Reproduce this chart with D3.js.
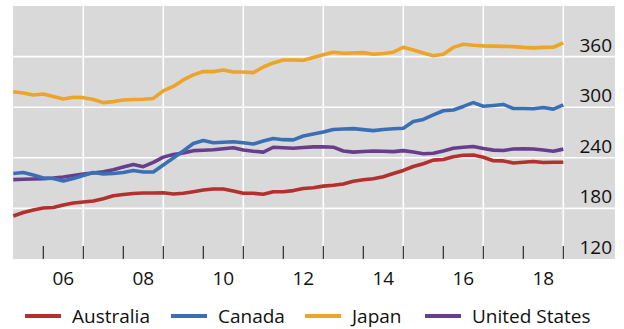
<!DOCTYPE html>
<html>
<head>
<meta charset="utf-8">
<script src="https://cdn.jsdelivr.net/npm/d3@7"></script>
<style>
  html, body { margin: 0; padding: 0; background: #ffffff; }
  svg { display: block; font-family: "Open Sans", "Noto Sans", sans-serif; }
</style>
</head>
<body>
<svg id="chart" width="624" height="329"></svg>
<script>
// Quarterly index levels, 2005 Q1 – 2018 Q4 (plotted at quarter end)
const firstQuarterEnd = 2005.25;

const australia = [
  171.0, 175.2, 178.1, 180.5, 181.1, 184.1, 186.4, 187.6, 188.8, 191.5,
  195.1, 196.5, 197.7, 198.3, 198.3, 198.5, 197.1, 197.9, 199.8, 201.9,
  203.0, 203.0, 200.7, 197.9, 197.9, 196.8, 199.7, 199.7, 201.1, 203.6,
  204.5, 206.4, 207.5, 209.0, 212.2, 214.0, 215.1, 217.6, 221.4, 225.0,
  229.7, 232.9, 237.2, 238.0, 241.2, 243.1, 243.4, 240.6, 236.5, 236.3,
  233.9, 234.7, 235.7, 234.5, 234.7, 234.7
];
const canada = [
  221.4, 222.6, 219.7, 216.1, 215.5, 212.5, 215.5, 219.1, 222.6, 220.8,
  221.4, 222.6, 225.0, 223.2, 223.2, 231.5, 239.8, 248.1, 257.0, 260.6,
  257.9, 258.5, 259.1, 257.8, 256.4, 260.0, 262.9, 261.5, 261.2, 265.9,
  268.3, 270.6, 273.6, 274.2, 274.6, 273.4, 272.2, 273.6, 274.4, 275.0,
  283.1, 285.5, 290.8, 295.8, 296.7, 300.9, 305.4, 301.1, 302.1, 303.3,
  298.5, 298.5, 298.2, 299.6, 297.7, 302.7
];
const japan = [
  318.4, 316.9, 314.5, 315.7, 312.8, 309.8, 311.8, 311.3, 309.2, 305.4,
  306.6, 308.6, 309.2, 309.4, 310.4, 319.3, 324.6, 332.3, 338.3, 342.4,
  342.2, 344.2, 341.8, 341.8, 341.0, 347.7, 352.5, 356.0, 356.0, 355.7,
  359.0, 362.3, 365.2, 364.0, 364.3, 364.7, 362.8, 363.7, 365.2, 371.1,
  367.9, 364.3, 361.1, 362.8, 370.9, 374.7, 373.5, 372.7, 372.4, 372.1,
  371.8, 370.9, 370.3, 370.9, 371.1, 376.2
];
const unitedStates = [
  214.1, 214.6, 214.9, 215.3, 216.1, 217.3, 219.1, 220.8, 222.0, 223.5,
  225.8, 229.1, 232.0, 229.5, 234.5, 240.8, 244.0, 245.7, 248.5, 248.9,
  249.5, 250.7, 251.9, 249.3, 247.8, 246.7, 252.5, 251.9, 251.3, 252.3,
  252.9, 253.1, 252.6, 248.1, 246.7, 247.4, 248.1, 247.8, 247.3, 248.5,
  246.9, 244.8, 245.4, 248.1, 251.3, 252.5, 253.4, 251.1, 249.1, 248.7,
  250.5, 250.7, 250.5, 249.3, 247.8, 250.3
];

const seriesNames  = ["Australia", "Canada", "Japan", "United States"];
const seriesColors = ["#b3302f", "#3b6fb5", "#eca429", "#683d8e"];
const seriesValues = [australia, canada, japan, unitedStates];
const drawOrder    = [0, 3, 1, 2];

const yTicks      = [120, 180, 240, 300, 360];
const yearTicks   = [2006, 2007, 2008, 2009, 2010, 2011, 2012, 2013, 2014, 2015, 2016, 2017, 2018, 2019];
const yearLabels  = [2006, 2008, 2010, 2012, 2014, 2016, 2018];
const yearGrid    = [2007, 2009, 2011, 2013, 2015, 2017, 2019];

const svg = d3.select("#chart");

const plot = { left: 13, right: 615, top: 6, bottom: 259 };

const x = d3.scaleLinear().domain([2005.25, 2020.3]).range([13.3, 615.3]);
const y = d3.scaleLinear().domain([120, 420]).range([plot.bottom, plot.top]);

// Panel background
svg.append("rect")
  .attr("x", plot.left).attr("y", plot.top)
  .attr("width", plot.right - plot.left).attr("height", plot.bottom - plot.top)
  .attr("fill", "#d9d9d9");

// Gridlines
const grid = svg.append("g").attr("stroke", "#ffffff").attr("stroke-width", 1.6);
grid.selectAll("line.h").data(yTicks.filter(v => v > 120)).join("line")
  .attr("class", "h")
  .attr("x1", plot.left).attr("x2", plot.right)
  .attr("y1", d => y(d)).attr("y2", d => y(d));
grid.selectAll("line.v").data(yearGrid).join("line")
  .attr("class", "v")
  .attr("x1", d => x(d)).attr("x2", d => x(d))
  .attr("y1", plot.top).attr("y2", plot.bottom);

// Year boundary ticks along the bottom
svg.append("g").selectAll("line").data(yearTicks).join("line")
  .attr("x1", d => x(d)).attr("x2", d => x(d))
  .attr("y1", plot.bottom - 13).attr("y2", plot.bottom)
  .attr("stroke", "#1a1a1a").attr("stroke-width", 1.1);

// Year labels, centred within each year
svg.append("g").selectAll("text").data(yearLabels).join("text")
  .attr("x", d => x(d + 0.5))
  .attr("y", 285)
  .attr("text-anchor", "middle")
  .attr("font-size", 19)
  .attr("fill", "#111")
  .text(d => String(d % 100).padStart(2, "0"));

// Right-hand value labels, sitting just above each gridline
svg.append("g").selectAll("text").data(yTicks).join("text")
  .attr("x", 612)
  .attr("y", d => y(d) - 5)
  .attr("text-anchor", "end")
  .attr("font-size", 19)
  .attr("fill", "#111")
  .text(d => d);

// Series lines
const line = d3.line()
  .x((d, i) => x(firstQuarterEnd + 0.25 * i))
  .y(d => y(d));

svg.append("g").selectAll("path").data(drawOrder).join("path")
  .attr("d", k => line(seriesValues[k]))
  .attr("fill", "none")
  .attr("stroke", k => seriesColors[k])
  .attr("stroke-width", 3.6)
  .attr("stroke-linejoin", "round")
  .attr("stroke-linecap", "butt");

// Legend
const legendX = [25, 171, 305, 425];
const legend = svg.append("g");
const items = legend.selectAll("g").data(seriesNames).join("g")
  .attr("transform", (d, i) => `translate(${legendX[i]},316)`);
items.append("line")
  .attr("x1", 0).attr("x2", 36).attr("y1", 0).attr("y2", 0)
  .attr("stroke", (d, i) => seriesColors[i])
  .attr("stroke-width", 4);
items.append("text")
  .attr("x", 47).attr("y", 7)
  .attr("font-size", 19)
  .attr("fill", "#111")
  .text(d => d);
</script>
</body>
</html>
